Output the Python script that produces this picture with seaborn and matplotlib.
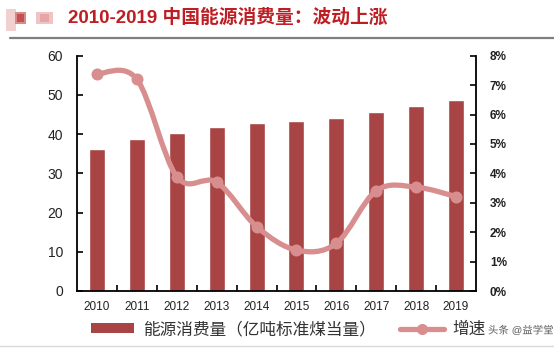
import numpy as np
import pandas as pd
import matplotlib
matplotlib.use("Agg")
import matplotlib.pyplot as plt
import seaborn as sns
from matplotlib.path import Path
from matplotlib.patches import PathPatch, Rectangle, Patch
from matplotlib.lines import Line2D
import matplotlib.patheffects as pe
from matplotlib.ticker import FuncFormatter

# ---- data ----
years = ["2010", "2011", "2012", "2013", "2014", "2015", "2016", "2017", "2018", "2019"]
consumption = [36.1, 38.7, 40.2, 41.7, 42.8, 43.4, 44.1, 45.6, 47.1, 48.6]   # 亿吨标准煤
growth = [7.38, 7.2, 3.89, 3.7, 2.19, 1.39, 1.62, 3.41, 3.53, 3.21]           # %

title = "2010-2019 中国能源消费量：波动上涨"
bar_label = "能源消费量（亿吨标准煤当量）"
line_label = "增速"
watermark = "头条 @益学堂"

BAR_COLOR = "#A94444"
LINE_COLOR = "#D88E8E"
TITLE_COLOR = "#BE1E23"

sns.set_theme(style="white")
plt.rcParams["font.family"] = ["Liberation Sans", "Noto Sans CJK SC", "DejaVu Sans"]

fig = plt.figure(figsize=(5.54, 3.49), dpi=100)
ax = fig.add_axes([77 / 554, 1 - 291 / 349, (476 - 77) / 554, (291 - 55.7) / 349])

df = pd.DataFrame({"year": years, "value": consumption})
sns.barplot(data=df, x="year", y="value", color=BAR_COLOR, width=0.4,
            saturation=1, ax=ax, zorder=2)
ax.set_xlim(-0.5, len(years) - 0.5)
ax.set_ylim(0, 60)
ax.set_yticks(range(0, 61, 10))
ax.set_xlabel("")
ax.set_ylabel("")

# secondary axis for growth rate
ax2 = ax.twinx()
ax2.set_ylim(0, 8)
ax2.set_yticks(range(0, 9))
ax2.yaxis.set_major_formatter(FuncFormatter(lambda v, _: f"{int(v)}%"))

# smooth curve through the growth points (Catmull-Rom as cubic Bezier)
xs = np.arange(len(growth), dtype=float)
ys = np.array(growth, dtype=float)
pts = np.column_stack([xs, ys])
verts = [pts[0]]
codes = [Path.MOVETO]
n = len(pts)
for i in range(n - 1):
    p0 = pts[i - 1] if i > 0 else pts[i]
    p1 = pts[i]
    p2 = pts[i + 1]
    p3 = pts[i + 2] if i + 2 < n else pts[i + 1]
    c1 = p1 + (p2 - p0) / 6.0
    c2 = p2 - (p3 - p1) / 6.0
    verts += [c1, c2, p2]
    codes += [Path.CURVE4] * 3
curve = PathPatch(Path(verts, codes), facecolor="none", edgecolor=LINE_COLOR,
                  lw=3.8, capstyle="round", zorder=3)
ax2.add_patch(curve)
sns.scatterplot(x=xs, y=ys, ax=ax2, color=LINE_COLOR, s=75, edgecolor=LINE_COLOR,
                linewidth=0, zorder=4, legend=False)

# axes styling
for a in (ax, ax2):
    a.spines["top"].set_visible(False)
    for s in ("left", "right", "bottom"):
        a.spines[s].set_color("black")
        a.spines[s].set_linewidth(1.3)
    a.grid(False)
ax.spines["right"].set_visible(False)
ax2.spines["left"].set_visible(False)
ax2.spines["bottom"].set_visible(False)

ax.tick_params(axis="y", direction="in", length=4, width=1.2, color="black",
               labelsize=10, labelcolor="#222222", pad=10, left=True)
ax2.tick_params(axis="y", direction="in", length=4, width=1.2, color="black",
                labelsize=8.5, labelcolor="#222222", pad=10, right=True)
ax.set_xticks(np.arange(len(years)))
ax.set_xticklabels(years)
ax.set_xticks(np.arange(0.5, len(years) - 1, 1.0), minor=True)
ax.tick_params(axis="x", which="major", length=0, labelsize=8.5,
               labelcolor="#222222", pad=7)
ax.tick_params(axis="x", which="minor", direction="in", length=4, width=1.2,
               color="black", bottom=True)
for lab in ax2.get_yticklabels():
    lab.set_fontweight("bold")

# legend
handles = [
    Patch(facecolor=BAR_COLOR, edgecolor="none"),
    Line2D([], [], color=LINE_COLOR, lw=3.8, marker="o", markersize=8,
           markeredgewidth=0),
]
leg = fig.legend(handles, [bar_label, line_label], ncol=2, loc="center left",
                 bbox_to_anchor=(76 / 554, 0.057), frameon=False, fontsize=12,
                 handlelength=2.6, handleheight=0.5, handletextpad=0.5,
                 columnspacing=1.5)
for t in leg.get_texts():
    t.set_color("#333333")

fig.text(488 / 554, 0.054, watermark, fontsize=7.5, color="#555555", alpha=0.9,
         ha="left", va="center",
         path_effects=[pe.withStroke(linewidth=2, foreground="white")])

# header
fig.text(68 / 554, 1 - 18 / 349, title, fontsize=13.5, fontweight="bold",
         color=TITLE_COLOR, ha="left", va="center")
icon = [(6, 9, 10, 22, "#F3D0D0"), (15, 12, 11, 12, "#D88A8A"),
        (17, 14, 7, 8, "#C45050"), (36, 12, 17, 12, "#F0C4C4"),
        (40, 14, 9, 8, "#E4A6A6")]
for x0, y0, w, h, c in icon:
    fig.patches.append(Rectangle((x0 / 554, 1 - (y0 + h) / 349), w / 554, h / 349,
                                 transform=fig.transFigure, facecolor=c,
                                 edgecolor="none"))
fig.add_artist(Line2D([10 / 554, 1.0], [1 - 38 / 349] * 2, color="#7F7F7F", lw=1.6))
fig.add_artist(Line2D([0, 1.0], [1 - 346 / 349] * 2, color="#D9D9D9", lw=1.0))

fig.savefig("out.png", dpi=100)
